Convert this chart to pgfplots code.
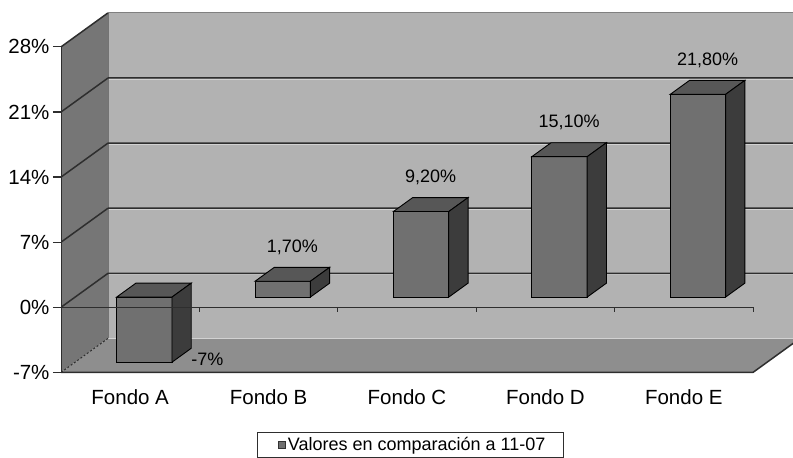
\documentclass[border=0pt]{standalone}
\usepackage{pgfplots}
\pgfplotsset{compat=1.18}
\usepackage{pgfplotstable}
\usepackage{fontspec}
\setmainfont{Liberation Sans}

\definecolor{wallback}{HTML}{B2B2B2}
\definecolor{wallside}{HTML}{767676}
\definecolor{floorc}{HTML}{8E8E8E}
\definecolor{barfront}{HTML}{707070}
\definecolor{bartop}{HTML}{575757}
\definecolor{barside}{HTML}{3C3C3C}
\definecolor{gridc}{HTML}{2E2E2E}
\definecolor{gridhi}{HTML}{D2D2D2}

% depth of the box (in axis units) and depth range of the bars inside it
\def\dX{0.3396}\def\dY{3.656}\def\fa{0.30}\def\fb{0.71}\def\hw{0.2}

\newcommand\labfont{\fontsize{18bp}{21bp}\selectfont}
\newcommand\tickfont{\fontsize{20.5bp}{24bp}\selectfont}

\pgfplotstableread{
x val
1 -7
2 1.7
3 9.2
4 15.1
5 21.8
}\fondos

\begin{document}
\begin{tikzpicture}
\begin{axis}[
  at={(61bp,80.02bp)}, anchor=south west,
  x=138.4bp, y=9.30bp,
  xmin=0.5, xmax=5.789, ymin=-7.6, ymax=33.04,
  enlargelimits=false,
  axis line style={draw=none},
  ytick={-7,0,7,14,21,28},
  yticklabels={-7\%,0\%,7\%,14\%,21\%,28\%},
  ytick pos=left, tick align=outside, major tick length=8bp,
  ytick style={draw=gridc, line width=1.2bp},
  xtick={1,2,3,4,5},
  xticklabels={Fondo A,Fondo B,Fondo C,Fondo D,Fondo E},
  xtick style={draw=none},
  tick label style={font=\tickfont},
  xticklabel style={yshift=-0.5bp},
  legend style={at={(0.4768,-0.1429)}, anchor=north, draw=gridc,
    line width=0.8bp, font=\labfont, inner xsep=15.5bp, inner ysep=3bp},
]
% walls and floor
\fill[wallback] (axis cs:0.8396,-3.344) rectangle (axis cs:5.8396,31.656);
\fill[wallside] (axis cs:0.5,-7) -- (axis cs:0.8396,-3.344) -- (axis cs:0.8396,31.656) -- (axis cs:0.5,28) -- cycle;
\fill[floorc] (axis cs:0.5,-7) -- (axis cs:5.5,-7) -- (axis cs:5.8396,-3.344) -- (axis cs:0.8396,-3.344) -- cycle;
% light highlights under the back grid lines
\draw[gridhi, line width=1bp, yshift=-1.6bp]
  (axis cs:0.8396,3.656) -- (axis cs:5.8396,3.656)
  (axis cs:0.8396,10.656) -- (axis cs:5.8396,10.656)
  (axis cs:0.8396,17.656) -- (axis cs:5.8396,17.656)
  (axis cs:0.8396,24.656) -- (axis cs:5.8396,24.656);
\draw[gridhi, line width=1bp] (axis cs:0.8396,-3.344) -- (axis cs:5.8396,-3.344);
\draw[gray, line width=0.8bp] (axis cs:0.8396,31.656) -- (axis cs:5.8396,31.656);
\draw[black!55, line width=0.6bp] (axis cs:0.8396,-3.344) -- (axis cs:0.8396,31.656);
% grid lines on the back wall and the side wall
\draw[gridc, line width=1.5bp]
  (axis cs:0.8396,3.656) -- (axis cs:5.8396,3.656)
  (axis cs:0.8396,10.656) -- (axis cs:5.8396,10.656)
  (axis cs:0.8396,17.656) -- (axis cs:5.8396,17.656)
  (axis cs:0.8396,24.656) -- (axis cs:5.8396,24.656)
  (axis cs:0.5,0) -- (axis cs:0.8396,3.656)
  (axis cs:0.5,7) -- (axis cs:0.8396,10.656)
  (axis cs:0.5,14) -- (axis cs:0.8396,17.656)
  (axis cs:0.5,21) -- (axis cs:0.8396,24.656)
  (axis cs:0.5,28) -- (axis cs:0.8396,31.656);
\draw[gridc, line width=1bp, dash pattern=on 2bp off 2bp] (axis cs:0.5,-7) -- (axis cs:0.8396,-3.344);
% front edges of the box
\draw[gridc, line width=1.5bp] (axis cs:0.5,28) -- (axis cs:0.5,-7) -- (axis cs:5.5,-7) -- (axis cs:5.8396,-3.344);

% the bars: front, top and side faces
\pgfplotsinvokeforeach{0,...,4}{%
  \pgfplotstablegetelem{#1}{val}\of\fondos
  \pgfmathsetmacro\bval{\pgfplotsretval}%
  \pgfmathsetmacro\btop{max(\bval,0)}%
  \pgfmathsetmacro\bbot{min(\bval,0)}%
  \pgfmathsetmacro\xfl{#1+1-\hw+\fa*\dX}%
  \pgfmathsetmacro\xfr{#1+1+\hw+\fa*\dX}%
  \pgfmathsetmacro\xbl{#1+1-\hw+\fb*\dX}%
  \pgfmathsetmacro\xbr{#1+1+\hw+\fb*\dX}%
  \pgfmathsetmacro\yft{\btop+\fa*\dY}%
  \pgfmathsetmacro\yfb{\bbot+\fa*\dY}%
  \pgfmathsetmacro\ybt{\btop+\fb*\dY}%
  \pgfmathsetmacro\ybb{\bbot+\fb*\dY}%
  \addplot[fill=barfront, draw=black, line width=0.9bp, forget plot]
    coordinates {(\xfl,\yfb) (\xfr,\yfb) (\xfr,\yft) (\xfl,\yft)} -- cycle;
  \addplot[fill=bartop, draw=black, line width=0.9bp, forget plot]
    coordinates {(\xfl,\yft) (\xfr,\yft) (\xbr,\ybt) (\xbl,\ybt)} -- cycle;
  \addplot[fill=barside, draw=black, line width=0.9bp, forget plot]
    coordinates {(\xfr,\yfb) (\xbr,\ybb) (\xbr,\ybt) (\xfr,\yft)} -- cycle;
}

% category axis at 0 with its separators
\draw[gridc, line width=1.4bp] (axis cs:0.5,0) -- (axis cs:5.5,0);
\draw[gridc, line width=1bp]
  (axis cs:1.5,0) -- ++(0bp,-5bp) (axis cs:2.5,0) -- ++(0bp,-5bp)
  (axis cs:3.5,0) -- ++(0bp,-5bp) (axis cs:4.5,0) -- ++(0bp,-5bp)
  (axis cs:5.5,0) -- ++(0bp,-5bp);

% value labels
\addplot[draw=none, forget plot, point meta=\thisrow{val},
  skip coords between index={0}{1},
  nodes near coords={\pgfmathprintnumber[fixed, fixed zerofill, precision=2, use comma, assume math mode=true]{\pgfplotspointmeta}\%},
  nodes near coords style={font=\labfont, anchor=center, yshift=20bp}]
  table[x expr=\thisrow{x}+0.5*(\fa+\fb)*\dX, y expr=\thisrow{val}+\fb*\dY] {\fondos};
\addplot[draw=none, forget plot, point meta=\thisrow{val},
  skip coords between index={1}{5},
  nodes near coords={\pgfmathprintnumber[fixed, precision=0, assume math mode=true]{\pgfplotspointmeta}\%},
  nodes near coords style={font=\labfont, anchor=west, inner xsep=0pt, yshift=3bp}]
  table[x expr=\thisrow{x}+\hw+\fb*\dX, y expr=\thisrow{val}+\fa*\dY] {\fondos};

\addlegendimage{legend image code/.code={\path (0bp,0bp); \draw[fill=barfront, draw=black!80, line width=0.8bp] (5.5bp,-3.5bp) rectangle (12.5bp,3.5bp);}}
\addlegendentry{Valores en comparación a 11-07}
\end{axis}
\pgfresetboundingbox
\path[use as bounding box] (0,0) rectangle (793bp,458bp);
\end{tikzpicture}
\end{document}
